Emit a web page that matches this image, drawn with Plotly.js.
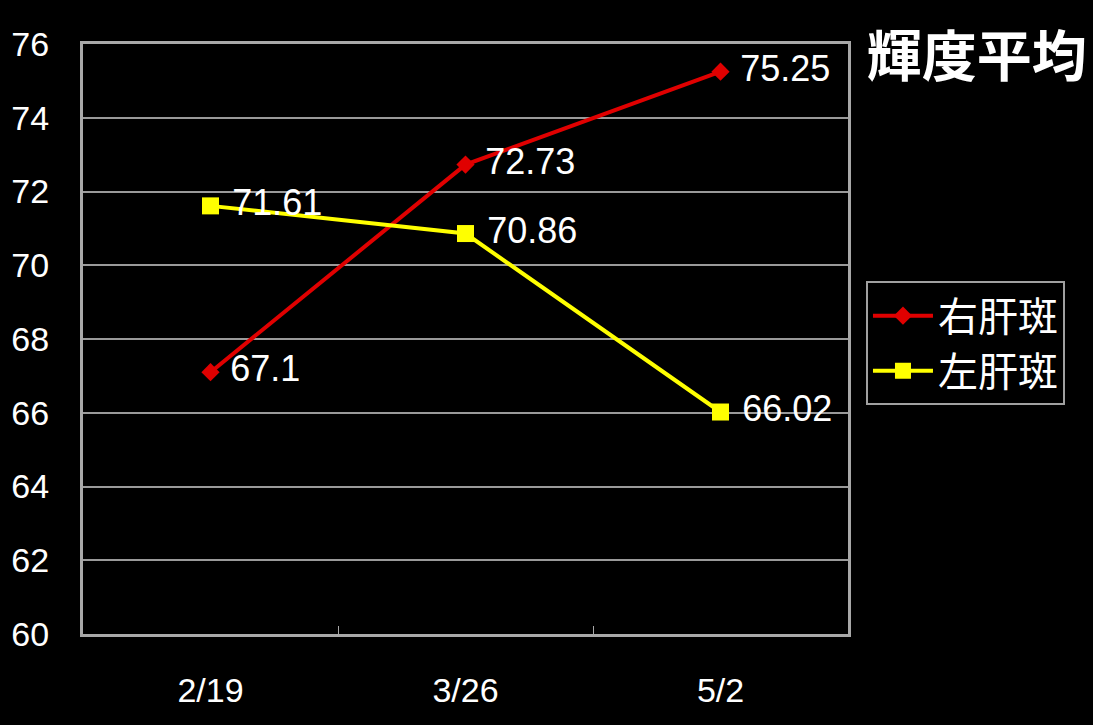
<!DOCTYPE html>
<html>
<head>
<meta charset="utf-8">
<script src="https://cdn.plot.ly/plotly-3.0.1.min.js"></script>
<style>html,body{margin:0;padding:0;background:#000;}#chart{width:1093px;height:725px;}</style>
</head>
<body>
<div id="chart"></div>
<script>
const categories = ['2/19', '3/26', '5/2'];
const rightValues = [67.1, 72.73, 75.25];
const leftValues = [71.61, 70.86, 66.02];
const seriesNames = ['右肝斑', '左肝斑'];
const yTicks = [60, 62, 64, 66, 68, 70, 72, 74, 76];
const chartTitle = '輝度平均';

const fmt = v => '\u00a0' + String(v);

const traces = [
  {
    x: categories, y: rightValues, name: seriesNames[0],
    type: 'scatter', mode: 'lines+markers+text',
    text: rightValues.map(fmt), textposition: 'middle right',
    textfont: {family: 'Liberation Sans, Arial, sans-serif', size: 36, color: '#ffffff'},
    line: {color: '#e00000', width: 4},
    marker: {symbol: 'diamond', size: 14, color: '#e00000'},
    cliponaxis: false
  },
  {
    x: categories, y: leftValues, name: seriesNames[1],
    type: 'scatter', mode: 'lines+markers+text',
    text: leftValues.map(fmt), textposition: 'middle right',
    textfont: {family: 'Liberation Sans, Arial, sans-serif', size: 36, color: '#ffffff'},
    line: {color: '#ffff00', width: 4},
    marker: {symbol: 'square', size: 17, color: '#ffff00'},
    cliponaxis: false
  }
];

const layout = {
  width: 1093, height: 725,
  paper_bgcolor: '#000000', plot_bgcolor: '#000000',
  margin: {l: 83, r: 245, t: 44, b: 91},
  font: {family: 'Liberation Sans, Arial, sans-serif', color: '#ffffff'},
  title: {
    text: '<b>' + chartTitle + '</b>',
    font: {family: 'Noto Sans CJK JP, sans-serif', size: 55, color: '#ffffff'},
    x: 0.793, xanchor: 'left', xref: 'container',
    y: 0.922, yanchor: 'middle', yref: 'container'
  },
  xaxis: {
    type: 'category', range: [-0.5, 2.5],
    showgrid: false, zeroline: false,
    showline: true, linecolor: '#a8a8a8', linewidth: 3, mirror: true,
    ticks: 'inside', tickson: 'boundaries', ticklen: 8, tickcolor: '#a8a8a8', tickwidth: 1,
    tickfont: {family: 'Liberation Sans, Arial, sans-serif', size: 34, color: '#ffffff'},
    ticklabelstandoff: 24
  },
  yaxis: {
    range: [60, 76], tickvals: yTicks, ticktext: yTicks.map(String),
    showgrid: true, gridcolor: '#9a9a9a', gridwidth: 2,
    zeroline: false,
    showline: true, linecolor: '#a8a8a8', linewidth: 3, mirror: true,
    ticks: '',
    tickfont: {family: 'Liberation Sans, Arial, sans-serif', size: 34, color: '#ffffff'},
    ticklabelstandoff: 24
  },
  showlegend: true,
  legend: {
    x: 1.0235, xanchor: 'left', y: 0.598, yanchor: 'top',
    bgcolor: '#000000', bordercolor: '#a0a0a0', borderwidth: 2,
    font: {family: 'Noto Sans CJK JP, sans-serif', size: 40, color: '#ffffff'},
    itemwidth: 60
  }
};

Plotly.newPlot('chart', traces, layout, {displayModeBar: false, staticPlot: true});
</script>
</body>
</html>
